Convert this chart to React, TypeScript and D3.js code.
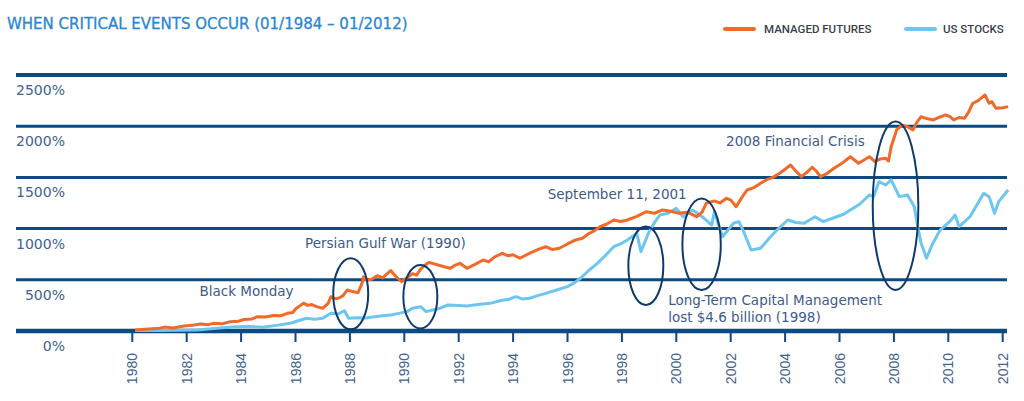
import React from "react";
import * as d3 from "d3";

const title = "WHEN CRITICAL EVENTS OCCUR (01/1984 \u2013 01/2012)";
const seriesNames = ["MANAGED FUTURES", "US STOCKS"];
const yTicks = [0, 500, 1000, 1500, 2000, 2500];
const xTicks = [1980, 1982, 1984, 1986, 1988, 1990, 1992, 1994, 1996, 1998, 2000, 2002, 2004, 2006, 2008, 2010, 2012];

const managedFutures: [number, number][] = [
  [1980.1, 10], [1980.6, 20], [1981.0, 28], [1981.2, 38], [1981.5, 30], [1981.9, 49], [1982.2, 55], [1982.5, 68],
  [1982.8, 62], [1983.0, 75], [1983.3, 70], [1983.6, 91], [1983.9, 96], [1984.1, 112], [1984.4, 118],
  [1984.6, 140], [1984.9, 136], [1985.2, 152], [1985.45, 148], [1985.7, 173], [1985.9, 180], [1986.0, 215],
  [1986.3, 272], [1986.45, 250], [1986.6, 258], [1986.8, 236], [1987.0, 222], [1987.2, 270], [1987.3, 335],
  [1987.45, 315], [1987.6, 322], [1987.75, 345], [1987.9, 400], [1988.1, 385], [1988.3, 374], [1988.45, 470],
  [1988.5, 530], [1988.6, 498], [1988.8, 505], [1989.0, 540], [1989.2, 520], [1989.5, 590], [1989.7, 530],
  [1989.9, 481], [1990.1, 520], [1990.3, 560], [1990.45, 545], [1990.6, 605], [1990.75, 640], [1990.9, 670],
  [1991.1, 655], [1991.3, 640], [1991.5, 625], [1991.7, 612], [1991.85, 640], [1992.05, 661], [1992.3, 612],
  [1992.6, 650], [1992.9, 693], [1993.1, 675], [1993.3, 720], [1993.6, 759], [1993.8, 735], [1994.0, 745],
  [1994.25, 710], [1994.5, 745], [1994.7, 770], [1994.95, 800], [1995.2, 823], [1995.45, 795], [1995.7, 808],
  [1996.0, 850], [1996.3, 889], [1996.55, 905], [1996.8, 954], [1997.0, 980], [1997.2, 1019], [1997.45, 1045],
  [1997.7, 1084], [1997.95, 1070], [1998.2, 1084], [1998.55, 1120], [1998.9, 1165], [1999.2, 1150],
  [1999.5, 1182], [1999.8, 1170], [2000.1, 1149], [2000.4, 1160], [2000.75, 1116], [2000.95, 1160],
  [2001.1, 1247], [2001.4, 1270], [2001.6, 1250], [2001.85, 1296], [2002.0, 1280], [2002.2, 1214],
  [2002.4, 1300], [2002.6, 1377], [2002.85, 1400], [2003.1, 1442], [2003.3, 1475], [2003.55, 1500],
  [2003.8, 1540], [2004.0, 1580], [2004.2, 1621], [2004.4, 1560], [2004.6, 1507], [2004.8, 1550],
  [2005.0, 1599], [2005.15, 1560], [2005.3, 1507], [2005.55, 1540], [2005.8, 1589], [2006.1, 1640],
  [2006.4, 1702], [2006.7, 1638], [2006.9, 1670], [2007.1, 1702], [2007.3, 1654], [2007.5, 1680],
  [2007.7, 1687], [2007.8, 1660], [2007.9, 1800], [2008.1, 1963], [2008.3, 2010], [2008.5, 1995],
  [2008.7, 1963], [2008.85, 2040], [2009.0, 2093], [2009.2, 2075], [2009.45, 2061], [2009.7, 2090],
  [2009.9, 2110], [2010.05, 2095], [2010.2, 2061], [2010.4, 2085], [2010.6, 2077], [2010.75, 2140],
  [2010.9, 2224], [2011.1, 2250], [2011.35, 2305], [2011.5, 2224], [2011.6, 2240], [2011.75, 2175],
  [2012.0, 2180], [2012.2, 2191],
];

const usStocks: [number, number][] = [
  [1980.1, 5], [1981.1, 5], [1982.4, 10], [1983.2, 30], [1983.8, 42], [1984.3, 45], [1984.8, 36], [1985.3, 55],
  [1985.8, 75], [1986.1, 100], [1986.4, 124], [1986.7, 115], [1987.0, 124], [1987.3, 173], [1987.55, 165],
  [1987.8, 198], [1987.95, 124], [1988.3, 130], [1988.6, 128], [1988.9, 140], [1989.2, 150], [1989.5, 156],
  [1989.8, 172], [1990.1, 189], [1990.3, 222], [1990.6, 237], [1990.8, 189], [1991.05, 205], [1991.3, 222],
  [1991.6, 254], [1992.0, 250], [1992.3, 244], [1992.7, 258], [1993.15, 270], [1993.6, 300], [1993.85, 310],
  [1994.1, 335], [1994.35, 312], [1994.6, 319], [1994.9, 345], [1995.2, 368], [1995.6, 400], [1996.0, 433],
  [1996.25, 470], [1996.5, 520], [1996.8, 596], [1997.1, 661], [1997.4, 740], [1997.7, 823], [1997.95, 850],
  [1998.2, 889], [1998.55, 954], [1998.7, 774], [1999.0, 970], [1999.2, 1060], [1999.4, 1133],
  [1999.7, 1150], [2000.0, 1198], [2000.25, 1116], [2000.6, 1182], [2000.95, 1116], [2001.3, 1035],
  [2001.4, 1165], [2001.7, 921], [2002.1, 1052], [2002.3, 1068], [2002.45, 986], [2002.75, 791],
  [2003.1, 808], [2003.4, 900], [2003.7, 986], [2004.1, 1084], [2004.4, 1060], [2004.7, 1052],
  [2005.1, 1116], [2005.4, 1068], [2005.9, 1116], [2006.15, 1140], [2006.4, 1182], [2006.75, 1240],
  [2007.1, 1328], [2007.25, 1312], [2007.45, 1458], [2007.7, 1426], [2007.9, 1475], [2008.2, 1312],
  [2008.5, 1328], [2008.75, 1214], [2008.9, 986], [2009.0, 856], [2009.2, 710], [2009.4, 840],
  [2009.7, 986], [2010.05, 1068], [2010.25, 1133], [2010.4, 1019], [2010.8, 1116], [2011.3, 1345],
  [2011.5, 1312], [2011.7, 1149], [2011.85, 1263], [2012.2, 1377],
];

// annotation ellipses: [centerYear, centerValue, radiusYears, radiusValue]
const eventEllipses: [number, number, number, number][] = [
  [1988.03, 363, 0.643, 347],
  [1990.59, 335, 0.625, 310],
  [1998.88, 637, 0.643, 383],
  [2000.93, 848, 0.706, 447],
  [2008.06, 1223, 0.838, 822],
];

// annotation labels: [text, year, value]
const eventLabels: [string, number, number][] = [
  ["Black Monday", 1982.47, 342],
  ["Persian Gulf War (1990)", 1986.35, 813],
  ["September 11, 2001", 1995.27, 1289],
  ["2008 Financial Crisis", 2001.83, 1809],
  ["Long-Term Capital Management", 1999.7, 254],
  ["lost $4.6 billion (1998)", 1999.7, 88],
];

const ORANGE = "#f26a2a";
const BLUE = "#6cc6f0";
const NAVY = "#0c4a82";
const LABEL = "#42628f";

export default function App() {
  const x = d3.scaleLinear().domain([1980, 2012]).range([132.3, 1002.7]);
  const y = d3.scaleLinear().domain([0, 2500]).range([331, 75]);
  const line = d3
    .line<[number, number]>()
    .x((d) => x(d[0]))
    .y((d) => y(d[1]));

  const gridLeft = 16;
  const gridRight = 1007;

  return (
    <svg
      width={1024}
      height={401}
      style={{ position: "absolute", left: 0, top: 0, background: "#fff" }}
      fontFamily="DejaVu Sans, sans-serif"
    >
      <text x={7} y={29} fill="#2a87d0" fontSize={15} fontFamily="DejaVu Sans" stroke="#2a87d0" strokeWidth={0.3}>
        {title}
      </text>

      {/* legend */}
      <line x1={725} x2={754} y1={29} y2={29} stroke={ORANGE} strokeWidth={4} strokeLinecap="round" />
      <text x={764} y={33} fill="#3b3f4c" fontSize={11.5} fontFamily="Roboto" fontWeight={500}>
        {seriesNames[0]}
      </text>
      <line x1={906} x2={935} y1={29} y2={29} stroke={BLUE} strokeWidth={4} strokeLinecap="round" />
      <text x={943} y={33} fill="#3b3f4c" fontSize={11.5} fontFamily="Roboto" fontWeight={500}>
        {seriesNames[1]}
      </text>

      {/* gridlines */}
      {yTicks.map((t) => (
        <g key={t}>
          <line
            x1={gridLeft}
            x2={gridRight}
            y1={y(t)}
            y2={y(t)}
            stroke={NAVY}
            strokeWidth={t === 0 ? 4.5 : t === 2500 ? 4 : 3}
          />
          <text x={65} y={y(t) + 20} textAnchor="end" fill={LABEL} fontSize={14}>
            {t}%
          </text>
        </g>
      ))}

      {/* x ticks */}
      {xTicks.map((t) => (
        <g key={t}>
          <line x1={x(t)} x2={x(t)} y1={331} y2={342} stroke={NAVY} strokeWidth={2} />
          <text
            transform={`translate(${x(t)},353) rotate(-90)`}
            textAnchor="end"
            dy="0.36em"
            fill={LABEL}
            fontSize={14}
            fontFamily="Liberation Sans, Arial, sans-serif"
          >
            {t}
          </text>
        </g>
      ))}

      {/* series */}
      <path d={line(usStocks) || ""} fill="none" stroke={BLUE} strokeWidth={3} strokeLinejoin="round" />
      <path d={line(managedFutures) || ""} fill="none" stroke={ORANGE} strokeWidth={3} strokeLinejoin="round" />

      {/* events */}
      {eventEllipses.map((e, i) => (
        <ellipse
          key={i}
          cx={x(e[0])}
          cy={y(e[1])}
          rx={x(e[0] + e[2]) - x(e[0])}
          ry={y(0) - y(e[3])}
          fill="none"
          stroke="#0f3b6c"
          strokeWidth={2}
        />
      ))}
      {eventLabels.map((l, i) => (
        <text key={i} x={x(l[1])} y={y(l[2])} fill="#3e5b8b" fontSize={13.5}>
          {l[0]}
        </text>
      ))}
    </svg>
  );
}
